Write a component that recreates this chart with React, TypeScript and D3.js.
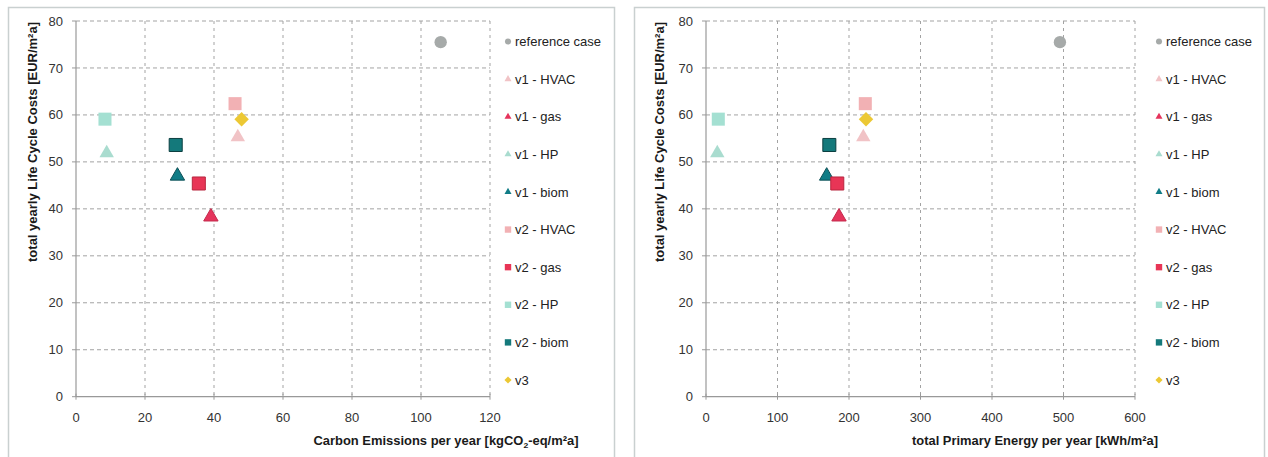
import React from "react";
import * as d3 from "d3";

// Scenario names, in legend order
const series = [
  "reference case",
  "v1 - HVAC",
  "v1 - gas",
  "v1 - HP",
  "v1 - biom",
  "v2 - HVAC",
  "v2 - gas",
  "v2 - HP",
  "v2 - biom",
  "v3",
];

// total yearly Life Cycle Costs [EUR/m²a]
const lifeCycleCosts = [75.5, 55.3, 38.3, 51.9, 47.0, 62.4, 45.4, 59.1, 53.6, 59.1];
// Carbon Emissions per year [kgCO2-eq/m²a]
const carbonEmissions = [105.7, 46.9, 39.1, 8.9, 29.4, 46.1, 35.6, 8.4, 28.9, 48.0];
// total Primary Energy per year [kWh/m²a]
const primaryEnergy = [495, 220, 186, 15.8, 168.8, 222.8, 183.6, 17.2, 172.5, 223.8];

const yTicks = [0, 10, 20, 30, 40, 50, 60, 70, 80];
const carbonTicks = [0, 20, 40, 60, 80, 100, 120];
const energyTicks = [0, 100, 200, 300, 400, 500, 600];

type Shape = "circle" | "triangle" | "square" | "diamond";
const shapes: Shape[] = [
  "circle",
  "triangle",
  "triangle",
  "triangle",
  "triangle",
  "square",
  "square",
  "square",
  "square",
  "diamond",
];
const fills = [
  "#a6aaa9",
  "#f1c3c6",
  "#e5345c",
  "#a9dccf",
  "#107c86",
  "#f2b1b4",
  "#e83556",
  "#a4e0d2",
  "#14797b",
  "#ecc834",
];
const strokes = [
  "none",
  "none",
  "#c42a4c",
  "none",
  "#0b4f55",
  "none",
  "#b8263f",
  "none",
  "#0c3f40",
  "none",
];

const FONT = "'Liberation Sans', Arial, sans-serif";

function symbolPath(shape: Shape, big: boolean): string {
  const s = big ? 1 : 0.24;
  switch (shape) {
    case "circle":
      return d3.symbol(d3.symbolCircle, 120 * s)()!;
    case "triangle":
      return d3.symbol(d3.symbolTriangle, 90 * s)()!;
    case "square":
      return d3.symbol(d3.symbolSquare, 170 * s)()!;
    case "diamond":
      return d3.symbol(d3.symbolSquare, 105 * s)()!;
  }
}

interface PanelProps {
  left: number;
  right: number;
  plotLeft: number;
  plotRight: number;
  xDomain: [number, number];
  xTicks: number[];
  xValues: number[];
  xTitle: React.ReactNode;
  xTitleCenter: number;
  xTitleLength: number;
  yTitleX: number;
  legendX: number;
}

const plotTop = 21;
const plotBottom = 396.7;

function Panel(p: PanelProps) {
  const x = d3.scaleLinear().domain(p.xDomain).range([p.plotLeft, p.plotRight]);
  const y = d3.scaleLinear().domain([0, 80]).range([plotBottom, plotTop]);
  const legendY = d3
    .scalePoint<string>()
    .domain(series)
    .range([41.5, 380]);
  const grid = "#a3a3a3";

  return (
    <g>
      <rect
        x={p.left + 0.5}
        y={7.5}
        width={p.right - p.left}
        height={460}
        fill="#ffffff"
        stroke="#c9d0d0"
        strokeWidth={1.5}
      />
      {/* horizontal grid */}
      {yTicks
        .filter((t) => t > 0)
        .map((t) => (
          <line
            key={"hy" + t}
            x1={p.plotLeft}
            x2={p.plotRight}
            y1={y(t)}
            y2={y(t)}
            stroke={grid}
            strokeDasharray="4,3"
          />
        ))}
      {/* vertical grid */}
      {p.xTicks
        .filter((t) => t > p.xDomain[0])
        .map((t) => (
          <line
            key={"vx" + t}
            x1={x(t)}
            x2={x(t)}
            y1={plotTop}
            y2={plotBottom}
            stroke={grid}
            strokeDasharray="3,4"
          />
        ))}
      {/* axes */}
      <line x1={p.plotLeft} x2={p.plotRight} y1={plotBottom} y2={plotBottom} stroke="#999" strokeWidth={1.2} />
      <line x1={p.plotLeft} x2={p.plotLeft} y1={plotTop} y2={plotBottom} stroke="#999" strokeWidth={1.2} />
      {p.xTicks.map((t) => (
        <line key={"tx" + t} x1={x(t)} x2={x(t)} y1={plotBottom - 3} y2={plotBottom + 3} stroke="#999" />
      ))}
      {yTicks.map((t) => (
        <line key={"ty" + t} x1={p.plotLeft - 4} x2={p.plotLeft} y1={y(t)} y2={y(t)} stroke="#999" />
      ))}
      {/* tick labels */}
      {yTicks.map((t) => (
        <text
          key={"ly" + t}
          x={p.plotLeft - 13}
          y={y(t)}
          dy="0.35em"
          textAnchor="end"
          fontFamily={FONT}
          fontSize={13}
          fill="#333"
        >
          {t}
        </text>
      ))}
      {p.xTicks.map((t) => (
        <text
          key={"lx" + t}
          x={x(t)}
          y={422}
          textAnchor="middle"
          fontFamily={FONT}
          fontSize={13}
          fill="#333"
        >
          {t}
        </text>
      ))}
      {/* axis titles */}
      <text
        x={p.xTitleCenter}
        y={445}
        textAnchor="middle"
        fontFamily={FONT}
        fontSize={12}
        fontWeight="bold"
        fill="#1a1a1a"
        textLength={p.xTitleLength}
        lengthAdjust="spacingAndGlyphs"
      >
        {p.xTitle}
      </text>
      <text
        transform={`translate(${p.yTitleX},142) rotate(-90)`}
        textAnchor="middle"
        dy="0.35em"
        fontFamily={FONT}
        fontSize={12}
        fontWeight="bold"
        fill="#1a1a1a"
        textLength={240}
        lengthAdjust="spacingAndGlyphs"
      >
        total yearly Life Cycle Costs [EUR/m²a]
      </text>
      {/* markers */}
      {series.map((name, i) => (
        <path
          key={"m" + name}
          d={symbolPath(shapes[i], true)}
          transform={`translate(${x(p.xValues[i])},${y(lifeCycleCosts[i])})${
            shapes[i] === "diamond" ? " rotate(45)" : ""
          }`}
          fill={fills[i]}
          stroke={strokes[i]}
          strokeWidth={1}
        />
      ))}
      {/* legend */}
      {series.map((name, i) => (
        <g key={"lg" + name} transform={`translate(${p.legendX},${legendY(name)})`}>
          <path
            d={symbolPath(shapes[i], false)}
            transform={shapes[i] === "diamond" ? "rotate(45)" : undefined}
            fill={fills[i]}
          />
          <text x={7} dy="0.35em" fontFamily={FONT} fontSize={13} fill="#222">
            {name}
          </text>
        </g>
      ))}
    </g>
  );
}

export default function App() {
  return (
    <div style={{ position: "absolute", left: 0, top: 0 }}>
      <svg width={1268} height={457} style={{ display: "block", background: "#fff" }}>
        <Panel
          left={8}
          right={614}
          plotLeft={76}
          plotRight={490}
          xDomain={[0, 120]}
          xTicks={carbonTicks}
          xValues={carbonEmissions}
          xTitle={
            <>
              Carbon Emissions per year [kgCO
              <tspan fontSize={8} dy={3}>
                2
              </tspan>
              <tspan dy={-3}>-eq/m²a]</tspan>
            </>
          }
          xTitleCenter={446}
          xTitleLength={265}
          yTitleX={33}
          legendX={508}
        />
        <Panel
          left={634}
          right={1264}
          plotLeft={706}
          plotRight={1135}
          xDomain={[0, 600]}
          xTicks={energyTicks}
          xValues={primaryEnergy}
          xTitle="total Primary Energy per year [kWh/m²a]"
          xTitleCenter={1035}
          xTitleLength={246}
          yTitleX={660}
          legendX={1159}
        />
      </svg>
    </div>
  );
}
